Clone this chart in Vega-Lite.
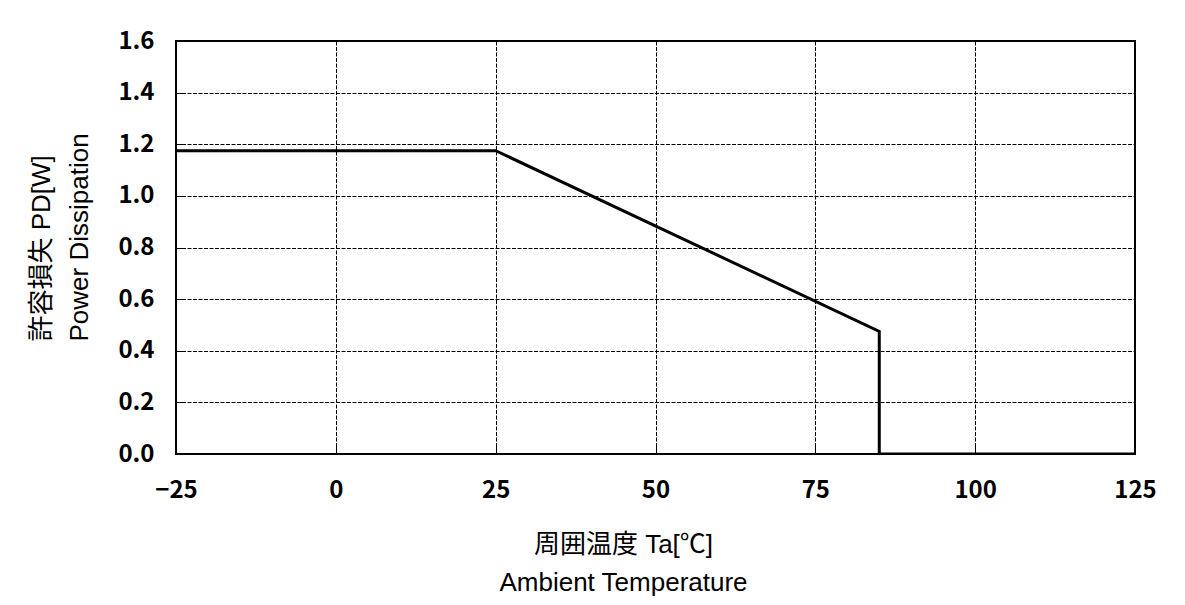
{
  "$schema": "https://vega.github.io/schema/vega-lite/v6.json",
  "autosize": {"type": "none"},
  "width": 959,
  "height": 413,
  "padding": {"left": 176, "top": 41, "right": 50, "bottom": 151},
  "background": "white",
  "config": {
    "view": {"stroke": "black", "strokeWidth": 2},
    "font": "Noto Sans CJK JP",
    "axis": {
      "grid": true,
      "gridColor": "black",
      "gridDash": [4, 1.5],
      "gridWidth": 1,
      "gridOpacity": 1,
      "domain": false,
      "ticks": true,
      "tickSize": -8,
      "tickColor": "black",
      "tickWidth": 1,
      "labelFlush": false,
      "labelFont": "Noto Sans CJK JP",
      "labelFontWeight": "bold",
      "labelFontSize": 24,
      "labelColor": "black",
      "titleFont": "Liberation Sans, Noto Sans CJK JP",
      "titleFontWeight": "normal",
      "titleFontSize": 26,
      "titleColor": "black",
      "titleLineHeight": 38
    }
  },
  "data": {
    "values": [
      {"i": 0, "temp": -25, "pd": 1.175},
      {"i": 1, "temp": 25, "pd": 1.175},
      {"i": 2, "temp": 85, "pd": 0.475},
      {"i": 3, "temp": 85, "pd": 0},
      {"i": 4, "temp": 125, "pd": 0}
    ]
  },
  "mark": {"type": "line", "color": "black", "strokeWidth": 3, "clip": true},
  "encoding": {
    "order": {"field": "i", "type": "quantitative"},
    "x": {
      "field": "temp",
      "type": "quantitative",
      "scale": {"domain": [-25, 125], "nice": false, "zero": false},
      "axis": {
        "values": [-25, 0, 25, 50, 75, 100, 125],
        "labelPadding": 32,
        "labelBaseline": "top",
        "title": ["周囲温度 Ta[℃]", "Ambient Temperature"],
        "titleBaseline": "top",
        "titleAlign": "center",
        "titleX": 447,
        "titleY": 77
      }
    },
    "y": {
      "field": "pd",
      "type": "quantitative",
      "scale": {"domain": [0, 1.6], "nice": false},
      "axis": {
        "values": [0, 0.2, 0.4, 0.6, 0.8, 1.0, 1.2, 1.4, 1.6],
        "format": ".1f",
        "labelPadding": 30,
        "title": ["許容損失 PD[W]", "Power Dissipation"],
        "titleAngle": -90,
        "titleAlign": "left",
        "titleBaseline": "top",
        "titleX": -148,
        "titleY": 300
      }
    }
  }
}
